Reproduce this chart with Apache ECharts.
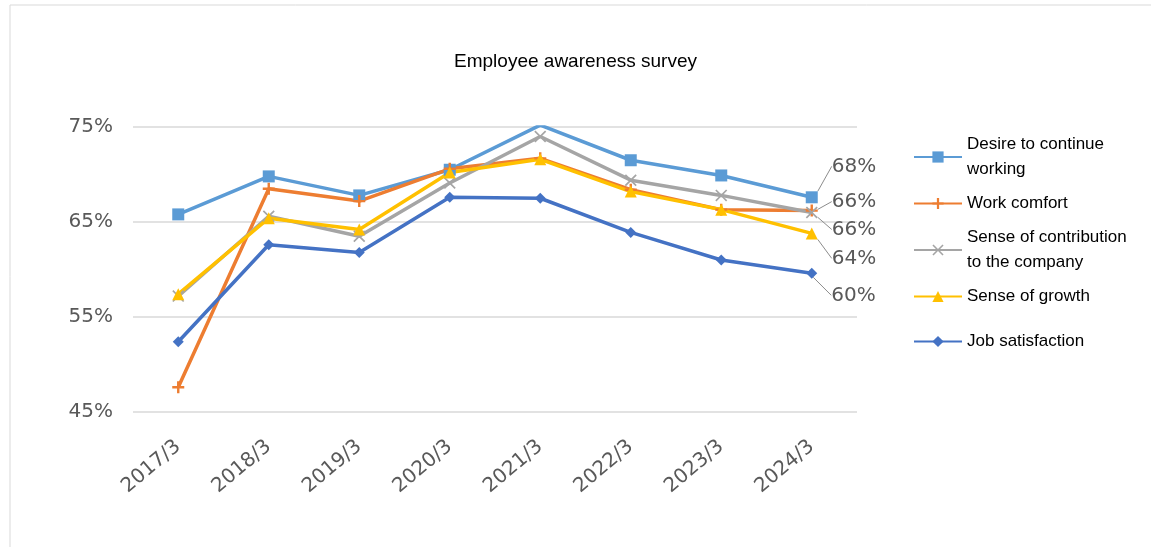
<!DOCTYPE html>
<html>
<head>
<meta charset="utf-8">
<script src="https://cdn.jsdelivr.net/npm/echarts@6/dist/echarts.min.js"></script>
<style>
  html, body { margin: 0; padding: 0; background: #fff; }
  #chart { width: 1151px; height: 547px; }
</style>
</head>
<body>
<div id="chart"></div>
<script>
// survey dates
const categories = ['2017/3', '2018/3', '2019/3', '2020/3', '2021/3', '2022/3', '2023/3', '2024/3'];
// percentages
const desire = [65.8, 69.8, 67.8, 70.5, 75.2, 71.5, 69.9, 67.6];
const comfort = [47.6, 68.5, 67.2, 70.6, 71.7, 68.4, 66.3, 66.2];
const contribution = [57.2, 65.6, 63.5, 69.1, 74.0, 69.4, 67.8, 66.0];
const growth = [57.4, 65.4, 64.2, 70.2, 71.6, 68.2, 66.3, 63.8];
const satisfaction = [52.4, 62.6, 61.8, 67.6, 67.5, 63.9, 61.0, 59.6];

const yTicks = { min: 45, max: 75, interval: 10 };

const plusPath = 'path://M4,0H6V4H10V6H6V10H4V6H0V4H4Z';
const crossPath = 'path://M1,0L5,4L9,0L10,1L6,5L10,9L9,10L5,6L1,10L0,9L4,5L0,1Z';

const grayText = '#595959';

function lastLabel (values) {
  // only the last point carries a value label
  return values.map((v, i) => i === values.length - 1 ? { value: v, label: { show: true } } : v);
}

// labelShift: how far the end label is pushed up/down so they don't collide
function makeSeries (name, values, color, symbol, size, labelShift) {
  return {
    name: name,
    type: 'line',
    data: lastLabel(values),
    symbol: symbol,
    symbolSize: size,
    showAllSymbol: true,
    lineStyle: { color: color, width: 3.5 },
    itemStyle: { color: color },
    label: {
      show: false,
      position: 'right',
      distance: 14,
      color: grayText,
      fontFamily: 'DejaVu Sans',
      fontSize: 20,
      formatter: p => Math.round(p.value) + '%'
    },
    labelLine: { show: true, lineStyle: { color: '#8c8c8c', width: 1 } },
    labelLayout: { dy: labelShift },
    emphasis: { disabled: true }
  };
}

const chart = echarts.init(document.getElementById('chart'));
const legendText = {
  fontFamily: 'Liberation Sans, Arial',
  fontSize: 17,
  color: '#000',
  lineHeight: 25
};
const legendNames = {
  'Desire to continue working': 'Desire to continue\nworking',
  'Sense of contribution to the company': 'Sense of contribution\nto the company'
};

chart.setOption({
  backgroundColor: '#fff',
  animation: false,
  title: {
    text: 'Employee awareness survey',
    left: 'center',
    top: 47,
    textStyle: { fontFamily: 'Liberation Sans, Arial', fontSize: 19, fontWeight: 'normal', color: '#000' }
  },
  graphic: [{
    type: 'rect',
    shape: { x: 10, y: 5, width: 1150, height: 560 },
    style: { fill: 'none', stroke: '#d9d9d9', lineWidth: 1 },
    silent: true
  }],
  legend: [{
    orient: 'vertical',
    left: 908,
    top: 127,
    itemWidth: 48,
    itemHeight: 14,
    itemGap: 9,
    data: ['Desire to continue working', 'Work comfort', 'Sense of contribution to the company', 'Sense of growth'],
    formatter: name => legendNames[name] || name,
    textStyle: legendText
  }, {
    orient: 'vertical',
    left: 908,
    top: 324,
    itemWidth: 48,
    itemHeight: 14,
    data: ['Job satisfaction'],
    textStyle: legendText
  }],
  grid: { left: 133, right: 294, top: 127, bottom: 135 },
  xAxis: {
    type: 'category',
    data: categories,
    boundaryGap: true,
    axisLine: { show: false },
    axisTick: { show: false },
    axisLabel: {
      rotate: 40,
      margin: 32,
      color: grayText,
      fontFamily: 'DejaVu Sans',
      fontSize: 20
    }
  },
  yAxis: {
    type: 'value',
    min: yTicks.min,
    max: yTicks.max,
    interval: yTicks.interval,
    axisLine: { show: false },
    axisTick: { show: false },
    axisLabel: {
      margin: 20,
      color: grayText,
      fontFamily: 'DejaVu Sans',
      fontSize: 20,
      formatter: '{value}%'
    },
    splitLine: { lineStyle: { color: '#d9d9d9', width: 1.5 } }
  },
  series: [
    makeSeries('Desire to continue working', desire, '#5B9BD5', 'rect', 12, -31),
    makeSeries('Work comfort', comfort, '#ED7D31', plusPath, 12, -9),
    makeSeries('Sense of contribution to the company', contribution, '#A5A5A5', crossPath, 12, 17),
    makeSeries('Sense of growth', growth, '#FFC000', 'triangle', 12, 25),
    makeSeries('Job satisfaction', satisfaction, '#4472C4', 'diamond', 11, 22)
  ]
});
</script>
</body>
</html>
